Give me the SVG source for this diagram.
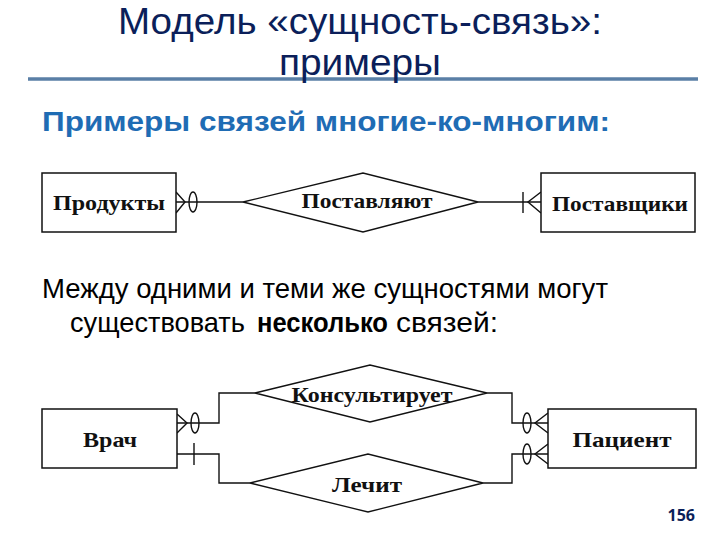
<svg xmlns="http://www.w3.org/2000/svg" width="720" height="540" viewBox="0 0 720 540">
<style>
.ent{fill:#fff;stroke:#111;stroke-width:1.5}
.rel{fill:#fff;stroke:#111;stroke-width:1.3}
.ln{fill:none;stroke:#111;stroke-width:1.4}
.lbl{font-family:"Liberation Serif",serif;font-weight:bold;font-size:22px;fill:#111;text-anchor:middle}
.title{font-family:"Liberation Sans",sans-serif;font-size:37px;fill:#0b1f5a;text-anchor:middle}
.sub{font-family:"Liberation Sans",sans-serif;font-weight:bold;font-size:27px;fill:#1f6cb4}
.body{font-family:"Liberation Sans",sans-serif;font-size:28px;fill:#000}
</style>
<rect width="720" height="540" fill="#fff"/>
<g id="title">
<text class="title" x="360" y="34" textLength="484" lengthAdjust="spacingAndGlyphs">Модель «сущность-связь»:</text>
<line x1="28" y1="79" x2="698" y2="79" stroke="#5a7fa6" stroke-width="3.5"/>
<text class="title" x="360" y="75" textLength="162" lengthAdjust="spacingAndGlyphs">примеры</text>
</g>
<text class="sub" x="42" y="131" textLength="568" lengthAdjust="spacingAndGlyphs">Примеры связей многие-ко-многим:</text>
<text class="body" x="42" y="298" textLength="566" lengthAdjust="spacingAndGlyphs">Между одними и теми же сущностями могут</text>
<text class="body" x="70" y="332" textLength="175" lengthAdjust="spacingAndGlyphs">существовать</text>
<text class="body" x="257" y="332" font-weight="bold" textLength="131" lengthAdjust="spacingAndGlyphs">несколько</text>
<text class="body" x="396" y="332" textLength="102" lengthAdjust="spacingAndGlyphs">связей:</text>

<g id="connectors">
<line class="ln" x1="176" y1="202" x2="243" y2="202"/>
<polyline class="ln" points="176,192 185,202 176,213"/>
<ellipse class="ln" cx="193" cy="202" rx="4" ry="10" fill="#fff"/>
<line class="ln" x1="478" y1="202" x2="541" y2="202"/>
<line class="ln" x1="523" y1="192" x2="523" y2="213"/>
<polyline class="ln" points="541,192 528,202 541,213"/>
<polyline class="ln" points="177,423 219,423 219,393 255,393"/>
<polyline class="ln" points="177,414 187,423 177,433"/>
<ellipse class="ln" cx="195" cy="423" rx="4" ry="10" fill="#fff"/>
<polyline class="ln" points="177,454 219,454 219,483 250,483"/>
<line class="ln" x1="194" y1="443" x2="194" y2="465"/>
<polyline class="ln" points="487,393 512,393 512,423 548,423"/>
<polyline class="ln" points="548,413 535,423 548,433"/>
<ellipse class="ln" cx="527" cy="423" rx="4" ry="10" fill="#fff"/>
<polyline class="ln" points="483,483 512,483 512,454 548,454"/>
<polyline class="ln" points="548,444 535,454 548,464"/>
<ellipse class="ln" cx="527" cy="454" rx="4" ry="10" fill="#fff"/>
</g>

<g id="products">
<rect class="ent" x="42" y="173" width="134" height="59"/>
<text class="lbl" x="109" y="210" textLength="112" lengthAdjust="spacingAndGlyphs">Продукты</text>
</g>
<g id="supply">
<polygon class="rel" points="243,202 363,173 478,202 363,232"/>
<text class="lbl" x="367" y="208" textLength="131" lengthAdjust="spacingAndGlyphs">Поставляют</text>
</g>
<g id="suppliers">
<rect class="ent" x="541" y="173" width="154" height="59"/>
<text class="lbl" x="620" y="211" textLength="136" lengthAdjust="spacingAndGlyphs">Поставщики</text>
</g>
<g id="doctor">
<rect class="ent" x="42" y="409" width="135" height="59"/>
<text class="lbl" x="110" y="447" textLength="54" lengthAdjust="spacingAndGlyphs">Врач</text>
</g>
<g id="consults">
<polygon class="rel" points="255,393 370,365 487,393 370,422"/>
<text class="lbl" x="372" y="402" textLength="161" lengthAdjust="spacingAndGlyphs">Консультирует</text>
</g>
<g id="treats">
<polygon class="rel" points="250,483 368,454 483,483 368,512"/>
<text class="lbl" x="367" y="492" textLength="70" lengthAdjust="spacingAndGlyphs">Лечит</text>
</g>
<g id="patient">
<rect class="ent" x="548" y="409" width="148" height="59"/>
<text class="lbl" x="622" y="447" textLength="99" lengthAdjust="spacingAndGlyphs">Пациент</text>
</g>
<text x="695" y="521" font-family="'Open Sans','Liberation Sans',sans-serif" font-weight="bold" font-size="16" fill="#0b1f5a" text-anchor="end">156</text>
</svg>
